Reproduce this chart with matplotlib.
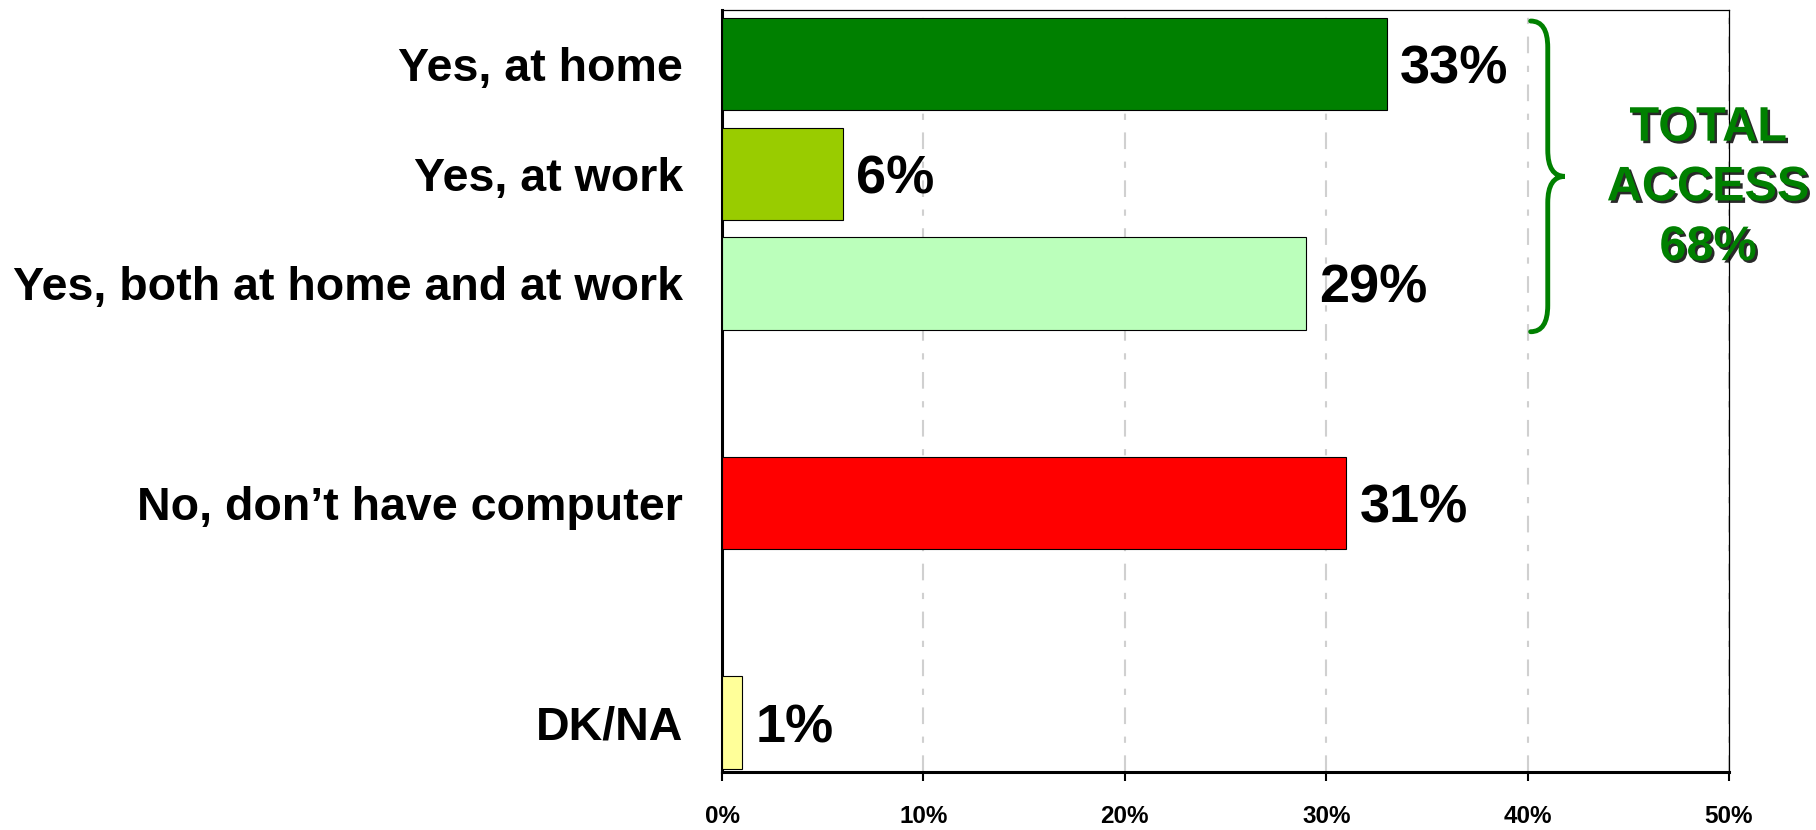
import matplotlib.pyplot as plt
import matplotlib.patheffects as pe
from matplotlib.path import Path
from matplotlib.patches import PathPatch

plt.rcParams['font.family'] = ['Liberation Sans', 'DejaVu Sans']
plt.rcParams['font.weight'] = 'bold'

categories = ["Yes, at home", "Yes, at work", "Yes, both at home and at work",
              "No, don\u2019t have computer", "DK/NA"]
values = [33, 6, 29, 31, 1]
positions = [0, 1, 2, 4, 6]
colors = ["#008000", "#99CC00", "#BBFFBB", "#FF0000", "#FFFF99"]
xticks = [0, 10, 20, 30, 40, 50]
total_access = sum(values[:3])

green = "#008000"
bar_h = 0.84

fig = plt.figure(figsize=(18.16, 8.30), dpi=100)
ax = fig.add_axes([0.3976, 0.0699, 0.5545, 0.918])

ax.barh(positions, values, height=bar_h, color=colors,
        edgecolor='black', linewidth=0.8, zorder=3)

for pos, v in zip(positions, values):
    ax.annotate(f"{v}%", (v, pos), xytext=(9.5, -4), textcoords='offset points',
                ha='left', va='center', fontsize=39, fontweight='bold', zorder=4)

ax.set_xlim(0, 50)
ax.set_ylim(6.45, -0.49)

ax.set_xticks(xticks)
ax.set_xticklabels([f"{t}%" for t in xticks], fontsize=17.5, fontweight='bold')
ax.set_yticks(positions)
ax.set_yticklabels(categories, fontsize=33.5, fontweight='bold')

ax.tick_params(axis='x', direction='out', length=6.5, width=1.5, pad=17)
ax.tick_params(axis='y', length=0, pad=28)

ax.xaxis.grid(True, color='#D0D0D0', linewidth=1.5, linestyle=(0, (8, 6, 3, 6)), zorder=0)
ax.set_axisbelow(True)

for side in ['left', 'bottom']:
    ax.spines[side].set_linewidth(2.2)
for side in ['top', 'right']:
    ax.spines[side].set_linewidth(0.9)

# curly brace around the three "yes" bars
y_top = positions[0] - bar_h / 2 + 0.03
y_bot = positions[2] + bar_h / 2 + 0.02
y_mid = (y_top + y_bot) / 2
x_end, x_spine, x_tip = 40.15, 41.0, 41.85
r = 0.24
verts = [
    (x_end, y_top), (x_spine, y_top), (x_spine, y_top + r),
    (x_spine, y_mid - r),
    (x_spine, y_mid), (x_tip, y_mid),
    (x_spine, y_mid), (x_spine, y_mid + r),
    (x_spine, y_bot - r),
    (x_spine, y_bot), (x_end, y_bot),
]
codes = [Path.MOVETO, Path.CURVE3, Path.CURVE3,
         Path.LINETO,
         Path.CURVE3, Path.CURVE3,
         Path.CURVE3, Path.CURVE3,
         Path.LINETO,
         Path.CURVE3, Path.CURVE3]
ax.add_patch(PathPatch(Path(verts, codes), fill=False, edgecolor=green,
                       linewidth=3.5, capstyle='round', clip_on=False, zorder=5))

ax.text(48.96, 1.13, f"TOTAL\nACCESS\n{total_access}%", ha='center', va='center',
        fontsize=35, fontweight='bold', color=green, linespacing=1.42,
        clip_on=False, zorder=6,
        path_effects=[pe.withSimplePatchShadow(offset=(1.8, -1.8),
                                               shadow_rgbFace='#111111', alpha=0.9)])

fig.savefig("out.png", dpi=100)
